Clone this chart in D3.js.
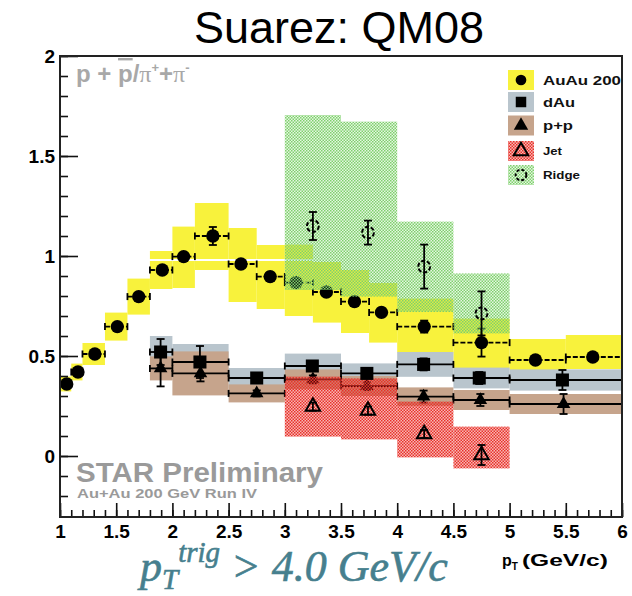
<!DOCTYPE html>
<html>
<head>
<meta charset="utf-8">
<script src="https://cdn.jsdelivr.net/npm/d3@7"></script>
<style>
  html, body { margin: 0; padding: 0; background: #fff; }
  svg { display: block; }
</style>
</head>
<body>
<script>
// ---- data: p + pbar / pi+ + pi- ratio vs pT ----
const xTickValues = [1, 1.5, 2, 2.5, 3, 3.5, 4, 4.5, 5, 5.5, 6];
const xTickLabels = ["1", "1.5", "2", "2.5", "3", "3.5", "4", "4.5", "5", "5.5", "6"];
const yTickValues = [0, 0.5, 1, 1.5, 2];
const yTickLabels = ["0", "0.5", "1", "1.5", "2"];

// Au+Au 200 GeV inclusive
const auBinLo = [1.0, 1.1, 1.2, 1.4, 1.6, 1.8, 2.0, 2.2, 2.5, 2.75, 3.0, 3.25, 3.5, 3.75, 4.0, 4.5, 5.0, 5.5];
const auBinHi = [1.1, 1.2, 1.4, 1.6, 1.8, 2.0, 2.2, 2.5, 2.75, 3.0, 3.25, 3.5, 3.75, 4.0, 4.5, 5.0, 5.5, 6.0];
const auPt    = [1.06, 1.16, 1.31, 1.51, 1.70, 1.91, 2.10, 2.36, 2.61, 2.87, 3.10, 3.37, 3.62, 3.86, 4.24, 4.75, 5.23, 5.74];
const auVal   = [0.36, 0.42, 0.51, 0.647, 0.797, 0.93, 0.997, 1.10, 0.96, 0.897, 0.867, 0.82, 0.772, 0.718, 0.647, 0.567, 0.48, 0.495];
const auStat  = [0.01, 0.01, 0.01, 0.01, 0.01, 0.015, 0.015, 0.045, 0.02, 0.02, 0.02, 0.02, 0.02, 0.02, 0.03, 0.07, 0.02, 0.02];
const auSysUp = [0.037, 0.042, 0.055, 0.07, 0.09, 0.095, 0.15, 0.165, 0.18, 0.158, 0.19, 0.15, 0.158, 0.147, 0.14, 0.12, 0.105, 0.11];
const auSysDn = [0.037, 0.042, 0.055, 0.07, 0.09, 0.095, 0.157, 0.17, 0.19, 0.162, 0.167, 0.153, 0.157, 0.151, 0.13, 0.13, 0.05, 0.06];

// d+Au and p+p share the binning
const refBinLo = [1.8, 2.0, 2.5, 3.0, 3.5, 4.0, 4.5, 5.0];
const refBinHi = [2.0, 2.5, 3.0, 3.5, 4.0, 4.5, 5.0, 6.0];
const dauPt   = [1.895, 2.245, 2.75, 3.245, 3.73, 4.235, 4.73, 5.47];
const dauVal  = [0.52, 0.47, 0.39, 0.45, 0.413, 0.458, 0.39, 0.38];
const dauStat = [0.065, 0.08, 0.02, 0.02, 0.02, 0.03, 0.03, 0.05];
const dauSys  = [0.08, 0.09, 0.05, 0.062, 0.05, 0.062, 0.052, 0.053];

const ppPt   = [1.895, 2.25, 2.75, 3.25, 3.73, 4.235, 4.74, 5.48];
const ppVal  = [0.438, 0.413, 0.313, 0.383, 0.35, 0.297, 0.28, 0.26];
const ppStat = [0.09, 0.04, 0.015, 0.02, 0.02, 0.03, 0.03, 0.05];
const ppSys  = [0.06, 0.11, 0.045, 0.05, 0.05, 0.046, 0.05, 0.05];

// jet and ridge components (triggered)
const trigBinLo = [3.0, 3.5, 4.0, 4.5];
const trigBinHi = [3.5, 4.0, 4.5, 5.0];
const jetPt    = [3.25, 3.74, 4.24, 4.75];
const jetVal   = [0.247, 0.227, 0.11, 0.005];
const jetStat  = [0.02, 0.02, 0.02, 0.05];
const jetSysUp = [0.15, 0.161, 0.162, 0.142];
const jetSysDn = [0.15, 0.144, 0.117, 0.067];

const ridgePt    = [3.25, 3.74, 4.24, 4.75];
const ridgeVal   = [1.15, 1.117, 0.947, 0.713];
const ridgeStat  = [0.07, 0.06, 0.11, 0.11];
const ridgeSysUp = [0.555, 0.555, 0.225, 0.2];
const ridgeSysDn = [0.32, 0.32, 0.227, 0.1];

const unityLine = 0.98;

// ---- layout ----
const W = 632, H = 596;
const x = d3.scaleLinear().domain([1, 6]).range([60, 622]);
const y = d3.scaleLinear().domain([0, 2]).range([456, 56]);
const plotBottom = 517;
const SANS = "'Liberation Sans', Arial, sans-serif";
const SERIF = "'Liberation Serif', 'Times New Roman', serif";

const C = {
  yellow: "#f8f23c",
  dau: "#b9c5cd",
  pp: "#c6a48c",
  red: "#e8322a",
  green: "#7fd06c",
  grey: "#9a9a9a"
};

const svg = d3.select("body").append("svg").attr("width", W).attr("height", H)
  .style("font-family", SANS);

// hatch patterns (checker with see-through cells)
const defs = svg.append("defs");
function checker(id, col, baseOp) {
  const p = defs.append("pattern").attr("id", id).attr("patternUnits", "userSpaceOnUse")
    .attr("width", 3).attr("height", 3);
  p.append("rect").attr("width", 3).attr("height", 3).attr("fill", col).attr("fill-opacity", baseOp);
  p.append("rect").attr("x", 0).attr("y", 0).attr("width", 1.5).attr("height", 1.5).attr("fill", col);
  p.append("rect").attr("x", 1.5).attr("y", 1.5).attr("width", 1.5).attr("height", 1.5).attr("fill", col);
}
checker("hatchRed", C.red, 0.35);
checker("hatchGreen", C.green, 0.2);

const plot = svg.append("g");

function sysBoxes(lo, hi, val, up, dn, fill) {
  plot.append("g").selectAll("rect").data(val).join("rect")
    .attr("x", (d, i) => x(lo[i]))
    .attr("width", (d, i) => x(hi[i]) - x(lo[i]))
    .attr("y", (d, i) => y(d + up[i]))
    .attr("height", (d, i) => y(d - dn[i]) - y(d + up[i]))
    .attr("fill", fill);
}

function errorBars(pt, lo, hi, val, stat, color, dash) {
  const g = plot.append("g").attr("stroke", color).attr("stroke-width", 1.8).attr("fill", "none");
  val.forEach((v, i) => {
    const cy = y(v);
    // horizontal bin-width bar with end caps
    g.append("line").attr("x1", x(lo[i])).attr("x2", x(hi[i])).attr("y1", cy).attr("y2", cy)
      .attr("stroke-dasharray", dash || null);
    g.append("line").attr("x1", x(lo[i])).attr("x2", x(lo[i])).attr("y1", cy - 3.5).attr("y2", cy + 3.5);
    g.append("line").attr("x1", x(hi[i])).attr("x2", x(hi[i])).attr("y1", cy - 3.5).attr("y2", cy + 3.5);
    // statistical error
    const px = x(pt[i]);
    g.append("line").attr("x1", px).attr("x2", px).attr("y1", y(v + stat[i])).attr("y2", y(v - stat[i]));
    g.append("line").attr("x1", px - 4).attr("x2", px + 4).attr("y1", y(v + stat[i])).attr("y2", y(v + stat[i]));
    g.append("line").attr("x1", px - 4).attr("x2", px + 4).attr("y1", y(v - stat[i])).attr("y2", y(v - stat[i]));
  });
}

function statOnly(pt, val, stat) {
  const g = plot.append("g").attr("stroke", "#000").attr("stroke-width", 1.8);
  val.forEach((v, i) => {
    const px = x(pt[i]);
    g.append("line").attr("x1", px).attr("x2", px).attr("y1", y(v + stat[i])).attr("y2", y(v - stat[i]));
    g.append("line").attr("x1", px - 4).attr("x2", px + 4).attr("y1", y(v + stat[i])).attr("y2", y(v + stat[i]));
    g.append("line").attr("x1", px - 4).attr("x2", px + 4).attr("y1", y(v - stat[i])).attr("y2", y(v - stat[i]));
  });
}

const sym = {
  circle: d3.symbol().type(d3.symbolCircle).size(140),
  square: d3.symbol().type(d3.symbolSquare).size(170),
  triangle: d3.symbol().type(d3.symbolTriangle).size(80),
  openTri: d3.symbol().type(d3.symbolTriangle).size(90),
  openCircle: d3.symbol().type(d3.symbolCircle).size(110)
};

function markers(pt, val, shape, filled, dash) {
  plot.append("g").selectAll("path").data(val).join("path")
    .attr("transform", (d, i) => `translate(${x(pt[i])},${y(d)})`)
    .attr("d", sym[shape])
    .attr("fill", filled ? "#000" : "none")
    .attr("stroke", filled ? "none" : "#000")
    .attr("stroke-width", filled ? 0 : 2)
    .attr("stroke-dasharray", dash || null);
}

// systematic bands
sysBoxes(auBinLo, auBinHi, auVal, auSysUp, auSysDn, C.yellow);
sysBoxes(refBinLo, refBinHi, dauVal, dauSys, dauSys, C.dau);
sysBoxes(refBinLo, refBinHi, ppVal, ppSys, ppSys, C.pp);

// unity reference
plot.append("line").attr("x1", x(1)).attr("x2", x(6)).attr("y1", y(unityLine)).attr("y2", y(unityLine))
  .attr("stroke", "#fff").attr("stroke-width", 2);

// p+p points sit below the jet band
errorBars(ppPt, refBinLo, refBinHi, ppVal, ppStat, "#000");
markers(ppPt, ppVal, "triangle", true);

// Au+Au points
errorBars(auPt, auBinLo, auBinHi, auVal, auStat, "#000", "5,2");
markers(auPt, auVal, "circle", true);

// jet and ridge bands (see-through hatch)
sysBoxes(trigBinLo, trigBinHi, jetVal, jetSysUp, jetSysDn, "url(#hatchRed)");
sysBoxes(trigBinLo, trigBinHi, ridgeVal, ridgeSysUp, ridgeSysDn, "url(#hatchGreen)");

// d+Au on top
errorBars(dauPt, refBinLo, refBinHi, dauVal, dauStat, "#000");
markers(dauPt, dauVal, "square", true);

statOnly(jetPt, jetVal, jetStat);
markers(jetPt, jetVal, "openTri", false);
statOnly(ridgePt, ridgeVal, ridgeStat);
markers(ridgePt, ridgeVal, "openCircle", false, "4,2");

// ---- axes ----
const xMinor = d3.range(1, 6.0001, 0.1);
const yMinor = d3.range(-0.3, 2.0001, 0.1);
const axisFont = `bold 19px ${SANS}`;

const xMinorAxis = d3.axisBottom(x).tickValues(xMinor).tickSize(-7).tickSizeOuter(0).tickFormat("");
const xMajorAxis = d3.axisBottom(x).tickValues(xTickValues).tickSize(-14).tickSizeOuter(0).tickPadding(8)
  .tickFormat((d, i) => xTickLabels[i]);
const yMinorAxis = d3.axisLeft(y).tickValues(yMinor.filter(v => y(v) < plotBottom - 2)).tickSize(-8).tickSizeOuter(0).tickFormat("");
const yMajorAxis = d3.axisLeft(y).tickValues(yTickValues).tickSize(-18).tickSizeOuter(0).tickPadding(5)
  .tickFormat((d, i) => yTickLabels[i]);

function styleAxis(g) {
  g.select(".domain").remove();
  g.selectAll(".tick line").attr("stroke", "#111").attr("stroke-width", 1.6);
  g.selectAll(".tick text").attr("fill", "#000").style("font", axisFont);
}
svg.append("g").attr("transform", `translate(0,${plotBottom})`).call(xMinorAxis).call(styleAxis);
svg.append("g").attr("transform", `translate(0,${plotBottom})`).call(xMajorAxis).call(styleAxis);
svg.append("g").attr("transform", `translate(${x(1)},0)`).call(yMinorAxis).call(styleAxis);
svg.append("g").attr("transform", `translate(${x(1)},0)`).call(yMajorAxis).call(styleAxis);

// frame
svg.append("path")
  .attr("d", `M${x(1)},${y(2)}H${x(6)}V${plotBottom}H${x(1)}Z`)
  .attr("fill", "none").attr("stroke", "#222").attr("stroke-width", 2);

// ---- legend ----
const legendItems = [
  { label: "AuAu 200", fill: C.yellow, shape: "circle", filled: true, size: 13, cy: 80, len: 78 },
  { label: "dAu", fill: C.dau, shape: "square", filled: true, size: 13, cy: 102, len: 32 },
  { label: "p+p", fill: C.pp, shape: "triangle", filled: true, size: 13, cy: 125.5, len: 30 },
  { label: "Jet", fill: "url(#hatchRed)", shape: "openTri", filled: false, size: 10, cy: 151, len: 19 },
  { label: "Ridge", fill: "url(#hatchGreen)", shape: "openCircle", filled: false, size: 10, cy: 175, len: 37 }
];
const leg = svg.append("g");
legendItems.forEach(it => {
  leg.append("rect").attr("x", 508).attr("y", it.cy - 10).attr("width", 26).attr("height", 20).attr("fill", it.fill);
  const s = d3.symbol().type({
    circle: d3.symbolCircle, square: d3.symbolSquare, triangle: d3.symbolTriangle,
    openTri: d3.symbolTriangle, openCircle: d3.symbolCircle
  }[it.shape]).size(it.shape === "square" ? 110 : 90);
  leg.append("path").attr("transform", `translate(521,${it.cy})`).attr("d", s)
    .attr("fill", it.filled ? "#000" : "none").attr("stroke", it.filled ? "none" : "#000")
    .attr("stroke-width", 2).attr("stroke-dasharray", it.shape === "openCircle" ? "3,2" : null);
  leg.append("text").attr("x", 543).attr("y", it.cy + it.size * 0.36)
    .attr("font-weight", "bold").attr("font-size", it.size)
    .attr("textLength", it.len).attr("lengthAdjust", "spacingAndGlyphs")
    .attr("fill", "#111").text(it.label);
});

// ---- annotations ----
svg.append("text").attr("x", 339).attr("y", 43).attr("text-anchor", "middle")
  .attr("font-size", 45).attr("fill", "#000").text("Suarez: QM08");

const ratio = svg.append("text").attr("x", 76).attr("y", 82).attr("font-size", 24)
  .attr("font-weight", "bold").attr("fill", "#a8a8a8");
ratio.append("tspan").text("p + ");
ratio.append("tspan").attr("text-decoration", "overline").text("p");
ratio.append("tspan").text("/");
ratio.append("tspan").style("font-family", SERIF).attr("font-weight", "normal").text("π");
ratio.append("tspan").attr("font-size", 13).attr("dy", -10).text("+");
ratio.append("tspan").attr("dy", 10).text("+");
ratio.append("tspan").style("font-family", SERIF).attr("font-weight", "normal").text("π");
ratio.append("tspan").attr("font-size", 13).attr("dy", -10).text("-");

svg.append("text").attr("x", 76).attr("y", 482).attr("font-size", 27).attr("font-weight", "bold")
  .attr("fill", C.grey).attr("textLength", 247).attr("lengthAdjust", "spacingAndGlyphs").text("STAR Preliminary");
svg.append("text").attr("x", 77).attr("y", 498).attr("font-size", 12.5).attr("font-weight", "bold")
  .attr("fill", C.grey).attr("textLength", 180).attr("lengthAdjust", "spacingAndGlyphs").text("Au+Au 200 GeV Run IV");

const xl = svg.append("text").attr("x", 502).attr("y", 566).attr("font-size", 16).attr("font-weight", "bold").attr("fill", "#000");
xl.append("tspan").text("p");
xl.append("tspan").attr("font-size", 10).attr("dy", 4).text("T");
xl.append("tspan").attr("dy", -4).attr("dx", 4).attr("textLength", 86).attr("lengthAdjust", "spacingAndGlyphs").text("(GeV/c)");

const trig = svg.append("text").attr("x", 140).attr("y", 581)
  .style("font-family", SERIF).style("font-style", "italic")
  .attr("font-size", 44).attr("fill", "#467f8e").attr("stroke", "#467f8e").attr("stroke-width", 0.6);
trig.append("tspan").text("p");
trig.append("tspan").attr("font-size", 29).attr("dy", 8).text("T");
trig.append("tspan").attr("font-size", 29).attr("dy", -27).text("trig");
trig.append("tspan").attr("dy", 19).text(" > 4.0 GeV/c");
</script>
</body>
</html>
